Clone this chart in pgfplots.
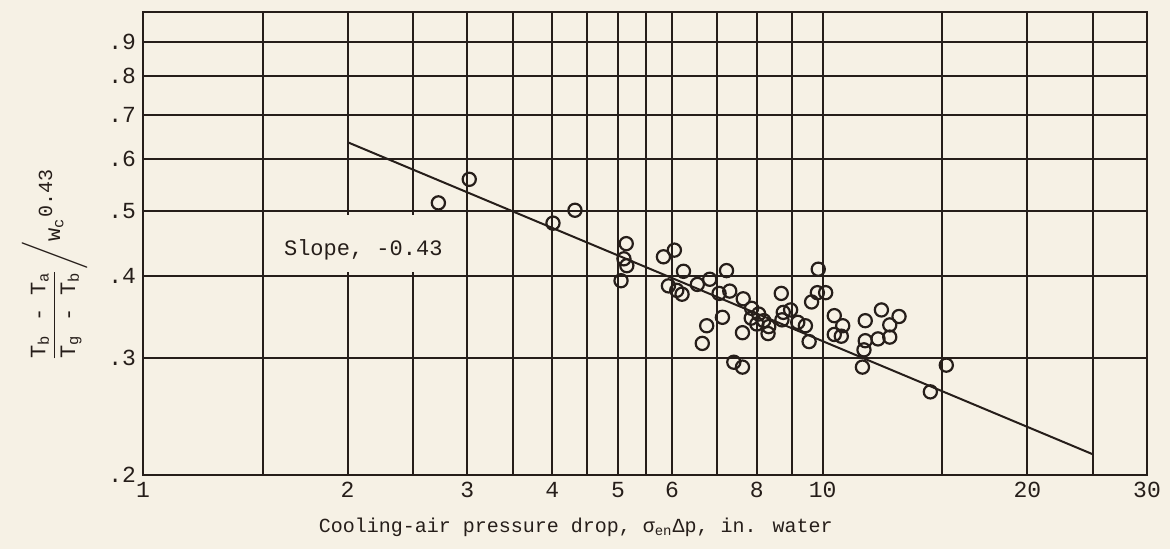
\documentclass[border=0pt]{standalone}
\usepackage{pgfplots}
\pgfplotsset{compat=1.18}
\usepackage{amsmath}
\usepackage{fontspec}
\setmainfont{Liberation Mono}
\definecolor{paper}{RGB}{246,241,229}
\definecolor{ink}{RGB}{38,30,26}
\begin{document}
\begin{tikzpicture}
\fill[paper] (-71.5pt,-37pt) rectangle (513.5pt,237.5pt);
\path[use as bounding box] (-71.5pt,-37pt) rectangle (513.5pt,237.5pt);
\begin{axis}[
  at={(0pt,0pt)}, anchor=south west,
  scale only axis, width=502pt, height=231.5pt,
  xmode=log, ymode=log,
  xmin=1, xmax=30, ymin=0.2, ymax=1.0,
  axis line style={ink, line width=1.1pt},
  grid=both,
  major grid style={ink, line width=1pt},
  minor grid style={ink, line width=1pt},
  xtick={1,2,3,4,5,6,8,10,20,30},
  xticklabels={1,2,3,4,5,6,8,10,20,30},
  minor xtick={1.5,2.5,3.5,4.5,5.5,7,9,15,25},
  ytick={0.2,0.3,0.4,0.5,0.6,0.7,0.8,0.9},
  yticklabels={.2,.3,.4,.5,.6,.7,.8,.9},
  major tick length=0pt, minor tick length=0pt,
  tick label style={font=\fontsize{11.5}{11.5}\selectfont, text=ink},
  xlabel={Cooling-air pressure drop, σ\textsubscript{en}Δp, in. water},
  xlabel style={at={(axis description cs:0.431,-0.112)}, anchor=center, font=\fontsize{10}{10}\selectfont, text=ink},
  ylabel={$\dfrac{\text{T\textsubscript{b} - T\textsubscript{a}}}{\text{T\textsubscript{g} - T\textsubscript{b}}}\Bigg/\text{w\textsubscript{c}}^{\text{\fontsize{10}{10}\selectfont 0.43}}$},
  ylabel style={at={(axis description cs:-0.088,0.454)}, anchor=center, font=\fontsize{11}{11}\selectfont, text=ink},
]
\fill[paper] (axis cs:1.53,0.405) rectangle (axis cs:2.96,0.494);
\node[font=\fontsize{11}{11}\selectfont, text=ink] at (axis cs:2.109,0.438) {Slope, -0.43};
\addplot[ink, line width=1pt] coordinates {(2,0.636) (25,0.2148)};
\addplot[ink, only marks, mark=o, mark size=3.3pt, mark options={line width=1.1pt}] coordinates {
(2.72,0.515) (3.02,0.559) (4.01,0.480) (4.32,0.502)
(5.14,0.447) (5.10,0.424) (5.15,0.414) (5.05,0.393)
(5.83,0.427) (6.05,0.437) (6.24,0.406) (5.93,0.386) (6.10,0.380) (6.21,0.375)
(6.54,0.388) (6.82,0.395) (7.22,0.407) (7.04,0.376) (7.30,0.379)
(7.64,0.369) (7.86,0.357) (7.85,0.345) (8.05,0.350) (8.00,0.338) (8.19,0.342) (8.33,0.335) (8.31,0.327)
(7.12,0.346) (6.75,0.336) (6.65,0.316) (7.62,0.328) (7.40,0.296) (7.62,0.291)
(8.69,0.376) (8.75,0.352) (8.97,0.355) (8.71,0.343) (9.19,0.340) (9.43,0.336) (9.55,0.318)
(9.63,0.365) (9.82,0.377) (10.1,0.377) (9.85,0.409)
(10.4,0.348) (10.7,0.336) (10.4,0.326) (10.65,0.324)
(11.55,0.342) (11.55,0.319) (11.5,0.309) (11.44,0.291)
(12.06,0.321) (12.2,0.355) (12.55,0.337) (12.55,0.323) (12.95,0.347)
(15.2,0.293) (14.4,0.267)
};
\end{axis}
\end{tikzpicture}
\end{document}
